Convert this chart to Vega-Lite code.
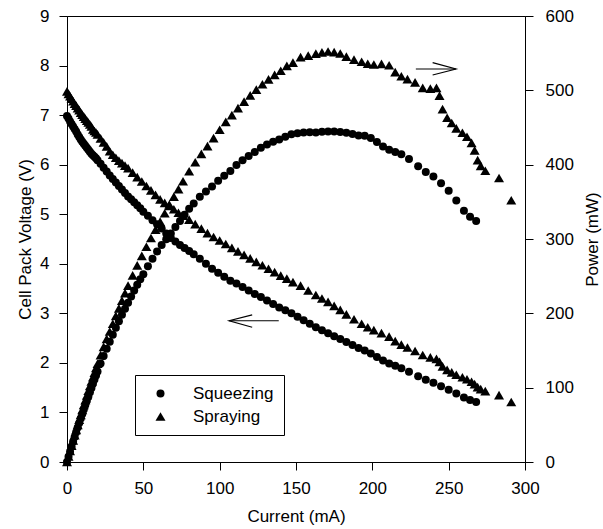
{
  "$schema": "https://vega.github.io/schema/vega-lite/v6.json",
  "autosize": "none",
  "width": 458,
  "height": 446,
  "padding": {"left": 67, "top": 16, "right": 78, "bottom": 67},
  "background": "white",
  "datasets": {
    "pts": [
      {"Method":"Squeezing","Current":0,"Voltage":6.98,"Power":0},
      {"Method":"Squeezing","Current":1,"Voltage":6.93,"Power":6.9},
      {"Method":"Squeezing","Current":2,"Voltage":6.87,"Power":13.7},
      {"Method":"Squeezing","Current":3,"Voltage":6.82,"Power":20.5},
      {"Method":"Squeezing","Current":4,"Voltage":6.77,"Power":27.1},
      {"Method":"Squeezing","Current":5,"Voltage":6.72,"Power":33.6},
      {"Method":"Squeezing","Current":6,"Voltage":6.67,"Power":40.0},
      {"Method":"Squeezing","Current":7,"Voltage":6.61,"Power":46.3},
      {"Method":"Squeezing","Current":8,"Voltage":6.56,"Power":52.5},
      {"Method":"Squeezing","Current":9,"Voltage":6.51,"Power":58.6},
      {"Method":"Squeezing","Current":10,"Voltage":6.46,"Power":64.6},
      {"Method":"Squeezing","Current":11,"Voltage":6.42,"Power":70.6},
      {"Method":"Squeezing","Current":12,"Voltage":6.38,"Power":76.6},
      {"Method":"Squeezing","Current":13,"Voltage":6.34,"Power":82.4},
      {"Method":"Squeezing","Current":14,"Voltage":6.30,"Power":88.2},
      {"Method":"Squeezing","Current":15,"Voltage":6.26,"Power":93.9},
      {"Method":"Squeezing","Current":16,"Voltage":6.22,"Power":99.5},
      {"Method":"Squeezing","Current":17,"Voltage":6.19,"Power":105.2},
      {"Method":"Squeezing","Current":18,"Voltage":6.16,"Power":110.9},
      {"Method":"Squeezing","Current":19,"Voltage":6.13,"Power":116.5},
      {"Method":"Squeezing","Current":20,"Voltage":6.09,"Power":121.8},
      {"Method":"Squeezing","Current":22,"Voltage":6.02,"Power":132.4},
      {"Method":"Squeezing","Current":24,"Voltage":5.94,"Power":142.6},
      {"Method":"Squeezing","Current":26,"Voltage":5.86,"Power":152.4},
      {"Method":"Squeezing","Current":28,"Voltage":5.78,"Power":161.8},
      {"Method":"Squeezing","Current":30,"Voltage":5.71,"Power":171.3},
      {"Method":"Squeezing","Current":32,"Voltage":5.64,"Power":180.5},
      {"Method":"Squeezing","Current":34,"Voltage":5.57,"Power":189.4},
      {"Method":"Squeezing","Current":36,"Voltage":5.50,"Power":198.0},
      {"Method":"Squeezing","Current":38,"Voltage":5.43,"Power":206.3},
      {"Method":"Squeezing","Current":40,"Voltage":5.36,"Power":214.4},
      {"Method":"Squeezing","Current":42,"Voltage":5.30,"Power":222.6},
      {"Method":"Squeezing","Current":44,"Voltage":5.24,"Power":230.6},
      {"Method":"Squeezing","Current":46,"Voltage":5.18,"Power":238.3},
      {"Method":"Squeezing","Current":48,"Voltage":5.12,"Power":245.8},
      {"Method":"Squeezing","Current":50,"Voltage":5.05,"Power":252.5},
      {"Method":"Squeezing","Current":53,"Voltage":4.97,"Power":263.4},
      {"Method":"Squeezing","Current":56,"Voltage":4.88,"Power":273.3},
      {"Method":"Squeezing","Current":59,"Voltage":4.80,"Power":283.2},
      {"Method":"Squeezing","Current":62,"Voltage":4.71,"Power":292.0},
      {"Method":"Squeezing","Current":65,"Voltage":4.61,"Power":299.7},
      {"Method":"Squeezing","Current":68,"Voltage":4.52,"Power":307.4},
      {"Method":"Squeezing","Current":71,"Voltage":4.45,"Power":316.0},
      {"Method":"Squeezing","Current":74,"Voltage":4.38,"Power":324.1},
      {"Method":"Squeezing","Current":77,"Voltage":4.32,"Power":332.6},
      {"Method":"Squeezing","Current":80,"Voltage":4.26,"Power":340.8},
      {"Method":"Squeezing","Current":83,"Voltage":4.19,"Power":347.8},
      {"Method":"Squeezing","Current":87,"Voltage":4.10,"Power":356.7},
      {"Method":"Squeezing","Current":91,"Voltage":4.00,"Power":364.0},
      {"Method":"Squeezing","Current":95,"Voltage":3.90,"Power":370.5},
      {"Method":"Squeezing","Current":99,"Voltage":3.82,"Power":378.2},
      {"Method":"Squeezing","Current":103,"Voltage":3.74,"Power":385.2},
      {"Method":"Squeezing","Current":107,"Voltage":3.66,"Power":391.6},
      {"Method":"Squeezing","Current":111,"Voltage":3.60,"Power":399.6},
      {"Method":"Squeezing","Current":115,"Voltage":3.53,"Power":406.0},
      {"Method":"Squeezing","Current":119,"Voltage":3.46,"Power":411.7},
      {"Method":"Squeezing","Current":123,"Voltage":3.39,"Power":417.0},
      {"Method":"Squeezing","Current":127,"Voltage":3.33,"Power":422.9},
      {"Method":"Squeezing","Current":131,"Voltage":3.26,"Power":427.1},
      {"Method":"Squeezing","Current":135,"Voltage":3.19,"Power":430.7},
      {"Method":"Squeezing","Current":139,"Voltage":3.12,"Power":433.7},
      {"Method":"Squeezing","Current":143,"Voltage":3.06,"Power":437.6},
      {"Method":"Squeezing","Current":147,"Voltage":3.00,"Power":441.0},
      {"Method":"Squeezing","Current":151,"Voltage":2.93,"Power":442.4},
      {"Method":"Squeezing","Current":155,"Voltage":2.86,"Power":443.3},
      {"Method":"Squeezing","Current":159,"Voltage":2.79,"Power":443.6},
      {"Method":"Squeezing","Current":163,"Voltage":2.72,"Power":443.4},
      {"Method":"Squeezing","Current":167,"Voltage":2.66,"Power":444.2},
      {"Method":"Squeezing","Current":171,"Voltage":2.60,"Power":444.6},
      {"Method":"Squeezing","Current":175,"Voltage":2.54,"Power":444.5},
      {"Method":"Squeezing","Current":179,"Voltage":2.48,"Power":443.9},
      {"Method":"Squeezing","Current":183,"Voltage":2.42,"Power":442.9},
      {"Method":"Squeezing","Current":187,"Voltage":2.36,"Power":441.3},
      {"Method":"Squeezing","Current":191,"Voltage":2.30,"Power":439.3},
      {"Method":"Squeezing","Current":195,"Voltage":2.25,"Power":438.8},
      {"Method":"Squeezing","Current":199,"Voltage":2.19,"Power":435.8},
      {"Method":"Squeezing","Current":203,"Voltage":2.12,"Power":430.4},
      {"Method":"Squeezing","Current":207,"Voltage":2.05,"Power":424.4},
      {"Method":"Squeezing","Current":211,"Voltage":1.99,"Power":419.9},
      {"Method":"Squeezing","Current":215,"Voltage":1.94,"Power":417.1},
      {"Method":"Squeezing","Current":219,"Voltage":1.89,"Power":413.9},
      {"Method":"Squeezing","Current":224,"Voltage":1.82,"Power":407.7},
      {"Method":"Squeezing","Current":230,"Voltage":1.73,"Power":397.9},
      {"Method":"Squeezing","Current":235,"Voltage":1.66,"Power":390.1},
      {"Method":"Squeezing","Current":240,"Voltage":1.60,"Power":384.0},
      {"Method":"Squeezing","Current":245,"Voltage":1.53,"Power":374.9},
      {"Method":"Squeezing","Current":250,"Voltage":1.46,"Power":365.0},
      {"Method":"Squeezing","Current":255,"Voltage":1.38,"Power":351.9},
      {"Method":"Squeezing","Current":260,"Voltage":1.30,"Power":338.0},
      {"Method":"Squeezing","Current":264,"Voltage":1.25,"Power":330.0},
      {"Method":"Squeezing","Current":268,"Voltage":1.21,"Power":324.3},
      {"Method":"Spraying","Current":0,"Voltage":7.48,"Power":0},
      {"Method":"Spraying","Current":1,"Voltage":7.43,"Power":7.4},
      {"Method":"Spraying","Current":2,"Voltage":7.38,"Power":14.8},
      {"Method":"Spraying","Current":3,"Voltage":7.33,"Power":22.0},
      {"Method":"Spraying","Current":4,"Voltage":7.28,"Power":29.1},
      {"Method":"Spraying","Current":5,"Voltage":7.23,"Power":36.2},
      {"Method":"Spraying","Current":6,"Voltage":7.19,"Power":43.1},
      {"Method":"Spraying","Current":7,"Voltage":7.14,"Power":50.0},
      {"Method":"Spraying","Current":8,"Voltage":7.10,"Power":56.8},
      {"Method":"Spraying","Current":9,"Voltage":7.05,"Power":63.5},
      {"Method":"Spraying","Current":10,"Voltage":7.01,"Power":70.1},
      {"Method":"Spraying","Current":11,"Voltage":6.97,"Power":76.7},
      {"Method":"Spraying","Current":12,"Voltage":6.93,"Power":83.2},
      {"Method":"Spraying","Current":13,"Voltage":6.89,"Power":89.6},
      {"Method":"Spraying","Current":14,"Voltage":6.85,"Power":95.9},
      {"Method":"Spraying","Current":15,"Voltage":6.81,"Power":102.2},
      {"Method":"Spraying","Current":16,"Voltage":6.77,"Power":108.3},
      {"Method":"Spraying","Current":17,"Voltage":6.71,"Power":114.1},
      {"Method":"Spraying","Current":18,"Voltage":6.68,"Power":120.2},
      {"Method":"Spraying","Current":19,"Voltage":6.65,"Power":126.4},
      {"Method":"Spraying","Current":20,"Voltage":6.61,"Power":132.2},
      {"Method":"Spraying","Current":22,"Voltage":6.53,"Power":143.7},
      {"Method":"Spraying","Current":24,"Voltage":6.45,"Power":154.8},
      {"Method":"Spraying","Current":26,"Voltage":6.37,"Power":165.6},
      {"Method":"Spraying","Current":28,"Voltage":6.27,"Power":175.6},
      {"Method":"Spraying","Current":30,"Voltage":6.20,"Power":186.0},
      {"Method":"Spraying","Current":32,"Voltage":6.14,"Power":196.5},
      {"Method":"Spraying","Current":34,"Voltage":6.08,"Power":206.7},
      {"Method":"Spraying","Current":36,"Voltage":6.03,"Power":217.1},
      {"Method":"Spraying","Current":38,"Voltage":5.98,"Power":227.2},
      {"Method":"Spraying","Current":40,"Voltage":5.93,"Power":237.2},
      {"Method":"Spraying","Current":43,"Voltage":5.84,"Power":251.1},
      {"Method":"Spraying","Current":46,"Voltage":5.75,"Power":264.5},
      {"Method":"Spraying","Current":49,"Voltage":5.66,"Power":277.3},
      {"Method":"Spraying","Current":52,"Voltage":5.57,"Power":289.6},
      {"Method":"Spraying","Current":55,"Voltage":5.48,"Power":301.4},
      {"Method":"Spraying","Current":58,"Voltage":5.39,"Power":312.6},
      {"Method":"Spraying","Current":61,"Voltage":5.30,"Power":323.3},
      {"Method":"Spraying","Current":64,"Voltage":5.23,"Power":334.7},
      {"Method":"Spraying","Current":67,"Voltage":5.17,"Power":346.4},
      {"Method":"Spraying","Current":70,"Voltage":5.10,"Power":357.0},
      {"Method":"Spraying","Current":73,"Voltage":5.03,"Power":367.2},
      {"Method":"Spraying","Current":76,"Voltage":4.97,"Power":377.7},
      {"Method":"Spraying","Current":80,"Voltage":4.89,"Power":391.2},
      {"Method":"Spraying","Current":84,"Voltage":4.80,"Power":403.2},
      {"Method":"Spraying","Current":88,"Voltage":4.71,"Power":414.5},
      {"Method":"Spraying","Current":92,"Voltage":4.62,"Power":425.0},
      {"Method":"Spraying","Current":96,"Voltage":4.54,"Power":435.8},
      {"Method":"Spraying","Current":100,"Voltage":4.47,"Power":447.0},
      {"Method":"Spraying","Current":104,"Voltage":4.40,"Power":457.6},
      {"Method":"Spraying","Current":108,"Voltage":4.32,"Power":466.6},
      {"Method":"Spraying","Current":112,"Voltage":4.25,"Power":476.0},
      {"Method":"Spraying","Current":116,"Voltage":4.18,"Power":484.9},
      {"Method":"Spraying","Current":120,"Voltage":4.11,"Power":493.2},
      {"Method":"Spraying","Current":124,"Voltage":4.04,"Power":501.0},
      {"Method":"Spraying","Current":128,"Voltage":3.97,"Power":508.2},
      {"Method":"Spraying","Current":132,"Voltage":3.90,"Power":514.8},
      {"Method":"Spraying","Current":136,"Voltage":3.83,"Power":520.9},
      {"Method":"Spraying","Current":140,"Voltage":3.76,"Power":526.4},
      {"Method":"Spraying","Current":144,"Voltage":3.70,"Power":532.8},
      {"Method":"Spraying","Current":148,"Voltage":3.63,"Power":537.2},
      {"Method":"Spraying","Current":153,"Voltage":3.56,"Power":544.7},
      {"Method":"Spraying","Current":158,"Voltage":3.46,"Power":546.7},
      {"Method":"Spraying","Current":163,"Voltage":3.37,"Power":549.3},
      {"Method":"Spraying","Current":167,"Voltage":3.30,"Power":551.1},
      {"Method":"Spraying","Current":171,"Voltage":3.23,"Power":552.3},
      {"Method":"Spraying","Current":175,"Voltage":3.15,"Power":551.3},
      {"Method":"Spraying","Current":179,"Voltage":3.07,"Power":549.5},
      {"Method":"Spraying","Current":183,"Voltage":2.98,"Power":545.3},
      {"Method":"Spraying","Current":188,"Voltage":2.88,"Power":541.4},
      {"Method":"Spraying","Current":193,"Voltage":2.79,"Power":538.5},
      {"Method":"Spraying","Current":197,"Voltage":2.72,"Power":535.8},
      {"Method":"Spraying","Current":201,"Voltage":2.66,"Power":534.7},
      {"Method":"Spraying","Current":206,"Voltage":2.60,"Power":535.6},
      {"Method":"Spraying","Current":211,"Voltage":2.53,"Power":533.8},
      {"Method":"Spraying","Current":215,"Voltage":2.44,"Power":524.6},
      {"Method":"Spraying","Current":219,"Voltage":2.37,"Power":519.0},
      {"Method":"Spraying","Current":223,"Voltage":2.31,"Power":515.1},
      {"Method":"Spraying","Current":228,"Voltage":2.24,"Power":510.7},
      {"Method":"Spraying","Current":233,"Voltage":2.16,"Power":503.3},
      {"Method":"Spraying","Current":238,"Voltage":2.11,"Power":502.2},
      {"Method":"Spraying","Current":242,"Voltage":2.08,"Power":503.4},
      {"Method":"Spraying","Current":244,"Voltage":2.02,"Power":492.9},
      {"Method":"Spraying","Current":246,"Voltage":1.93,"Power":474.8},
      {"Method":"Spraying","Current":249,"Voltage":1.86,"Power":463.1},
      {"Method":"Spraying","Current":252,"Voltage":1.81,"Power":456.1},
      {"Method":"Spraying","Current":255,"Voltage":1.76,"Power":448.8},
      {"Method":"Spraying","Current":259,"Voltage":1.71,"Power":442.9},
      {"Method":"Spraying","Current":262,"Voltage":1.67,"Power":437.5},
      {"Method":"Spraying","Current":265,"Voltage":1.62,"Power":429.3},
      {"Method":"Spraying","Current":267,"Voltage":1.57,"Power":419.2},
      {"Method":"Spraying","Current":269,"Voltage":1.51,"Power":406.2},
      {"Method":"Spraying","Current":271,"Voltage":1.47,"Power":398.4},
      {"Method":"Spraying","Current":274,"Voltage":1.43,"Power":391.8},
      {"Method":"Spraying","Current":283,"Voltage":1.35,"Power":382.1},
      {"Method":"Spraying","Current":291,"Voltage":1.21,"Power":352.1}
    ],
    "arrows": [
      {"seg":"r1","k":1,"Current":228.5,"Voltage":7.93},
      {"seg":"r1","k":2,"Current":254.8,"Voltage":7.93},
      {"seg":"r2","k":1,"Current":239.5,"Voltage":8.06},
      {"seg":"r2","k":2,"Current":254.8,"Voltage":7.93},
      {"seg":"r2","k":3,"Current":239.5,"Voltage":7.81},
      {"seg":"l1","k":1,"Current":106.2,"Voltage":2.85},
      {"seg":"l1","k":2,"Current":138.7,"Voltage":2.85},
      {"seg":"l2","k":1,"Current":121.3,"Voltage":2.97},
      {"seg":"l2","k":2,"Current":106.2,"Voltage":2.85},
      {"seg":"l2","k":3,"Current":121.3,"Voltage":2.72}
    ]
  },
  "layer": [
    {
      "layer": [
        {
          "data": {"name": "pts"},
          "mark": {"type": "point", "filled": true, "color": "black", "opacity": 1},
          "encoding": {
            "x": {"field": "Current", "type": "quantitative", "title": "Current (mA)",
                  "scale": {"domain": [0, 300], "nice": false},
                  "axis": {"values": [0, 50, 100, 150, 200, 250, 300]}},
            "y": {"field": "Voltage", "type": "quantitative", "title": "Cell Pack Voltage (V)",
                  "scale": {"domain": [0, 9], "nice": false},
                  "axis": {"orient": "left", "values": [0,1,2,3,4,5,6,7,8,9], "labelPadding": 10, "titlePadding": 5}},
            "shape": {"field": "Method", "type": "nominal",
                      "scale": {"domain": ["Squeezing", "Spraying"], "range": ["circle", "triangle-up"]},
                      "legend": {"title": null, "orient": "none", "legendX": 68, "legendY": 359,
                                 "strokeColor": "black", "padding": 10, "symbolOffset": 7, "labelOffset": 24,
                                 "labelFontSize": 17, "labelFont": "Liberation Sans", "rowPadding": 5,
                                 "labelColor": "black", "symbolFillColor": "black", "symbolStrokeColor": "black"}},
            "size": {"field": "Method", "type": "nominal",
                     "scale": {"domain": ["Squeezing", "Spraying"], "range": [64, 100]}}
          }
        },
        {
          "data": {"name": "arrows"},
          "mark": {"type": "line", "color": "black", "strokeWidth": 1.2},
          "encoding": {
            "x": {"field": "Current", "type": "quantitative"},
            "y": {"field": "Voltage", "type": "quantitative"},
            "detail": {"field": "seg", "type": "nominal"},
            "order": {"field": "k", "type": "quantitative"}
          }
        }
      ]
    },
    {
      "data": {"name": "pts"},
      "mark": {"type": "point", "filled": true, "color": "black", "opacity": 1},
      "encoding": {
        "x": {"field": "Current", "type": "quantitative"},
        "y": {"field": "Power", "type": "quantitative", "title": "Power (mW)",
              "scale": {"domain": [0, 600], "nice": false},
              "axis": {"orient": "right", "values": [0,100,200,300,400,500,600], "labelPadding": 12,
                       "titlePadding": 11, "titleAngle": 270, "titleBaseline": "top"}},
        "shape": {"field": "Method", "type": "nominal",
                  "scale": {"domain": ["Squeezing", "Spraying"], "range": ["circle", "triangle-up"]}},
        "size": {"field": "Method", "type": "nominal",
                 "scale": {"domain": ["Squeezing", "Spraying"], "range": [64, 100]}}
      }
    }
  ],
  "resolve": {"scale": {"y": "independent"}, "axis": {"y": "independent"}},
  "config": {
    "font": "Liberation Sans",
    "view": {"stroke": "black", "strokeWidth": 1},
    "axis": {
      "grid": false, "domainColor": "black", "domainWidth": 1, "tickColor": "black", "tickSize": 8,
      "labelColor": "black", "titleColor": "black", "labelFontSize": 17, "titleFontSize": 17,
      "titleFontWeight": "normal"
    },
    "axisX": {"labelPadding": 10, "titlePadding": 12, "labelFlush": false},
    "axisY": {"labelFlush": false},
    "legend": {"labelFontSize": 17, "labelColor": "black"}
  }
}
